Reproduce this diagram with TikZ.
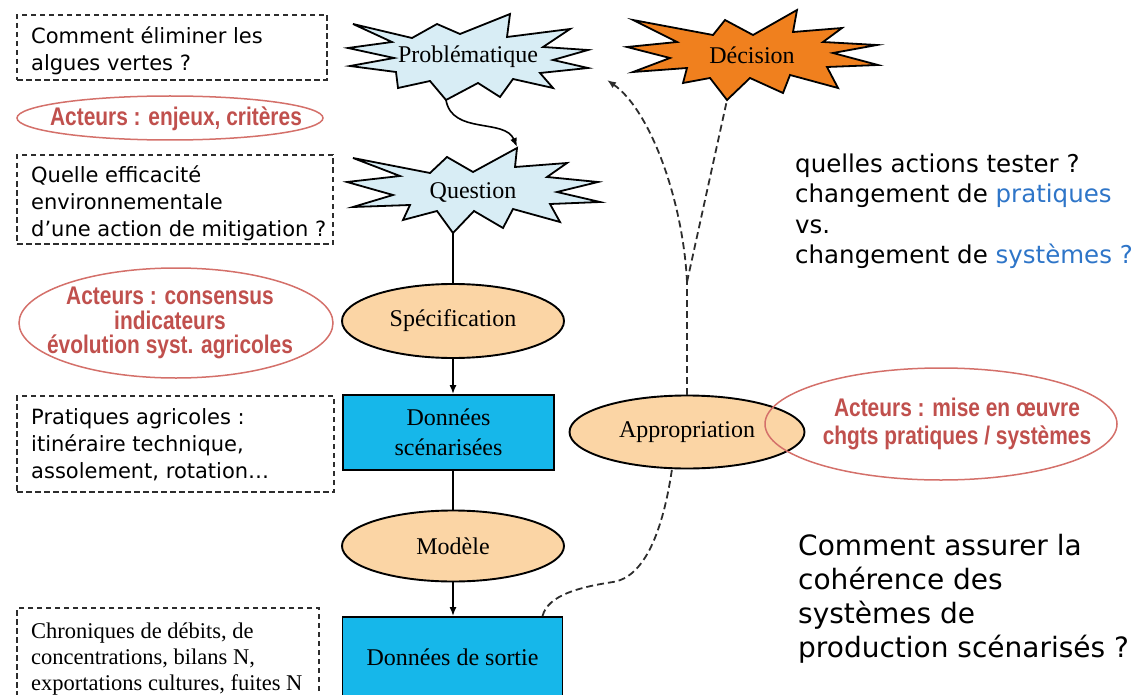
\documentclass[tikz,border=0pt]{standalone}
\usepackage{fontspec}
\setmainfont{Liberation Serif}
\newfontfamily\lucida{DejaVu Sans}
\newfontfamily\narrowred{Liberation Sans}[FakeStretch=0.82]
\usetikzlibrary{arrows.meta,shapes.geometric}
\definecolor{peach}{RGB}{251,213,165}
\definecolor{cyanbox}{RGB}{22,183,234}
\definecolor{lightblue}{RGB}{216,237,245}
\definecolor{orangeburst}{RGB}{240,128,30}
\definecolor{redtext}{RGB}{192,80,77}
\definecolor{redline}{RGB}{212,112,106}
\definecolor{blueword}{RGB}{46,117,200}
\definecolor{dashgray}{RGB}{45,45,45}
\begin{document}
\begin{tikzpicture}[x=1pt,y=-1pt,
 dbox/.style={rectangle, draw=dashgray, line width=1.7pt, dash pattern=on 5.5pt off 3.5pt, inner sep=0pt},
 ltxt/.style={align=left, inner sep=0pt, anchor=west, font=\lucida\fontsize{21}{27}\selectfont},
 stxt/.style={align=left, inner sep=0pt, anchor=west, font=\fontsize{22.5}{26}\selectfont},
 redell/.style={ellipse, draw=redline, line width=1.5pt, inner sep=0pt},
 redtxt/.style={align=center, inner sep=0pt, text=redtext, font=\narrowred\bfseries\fontsize{25.5}{24.5}\selectfont},
 peachell/.style={ellipse, draw=black, line width=1.9pt, fill=peach, inner sep=0pt, font=\fontsize{24}{30}\selectfont},
 cyanrect/.style={rectangle, draw=black, line width=1.9pt, fill=cyanbox, inner sep=0pt, align=center, font=\fontsize{24}{30}\selectfont},
 burst/.style={draw=black, line width=1.8pt, line join=miter, miter limit=10},
 bursttxt/.style={inner sep=0pt, font=\fontsize{24}{28}\selectfont},
 conn/.style={draw=black, line width=1.6pt},
 arr/.style={conn, -{Latex[length=9pt,width=7pt]}},
 dconn/.style={draw=dashgray, line width=1.8pt, dash pattern=on 7pt off 4pt},
 darr/.style={dconn, -{Latex[length=9pt,width=7pt]}},
 rtxt/.style={anchor=base west, inner sep=0pt, font=\lucida\fontsize{24.5}{31}\selectfont},
 btxt/.style={anchor=base west, inner sep=0pt, font=\lucida\fontsize{28}{34}\selectfont}
]
\useasboundingbox (0,0) rectangle (1147,695);

% ---------- left column: dashed boxes ----------
\node[dbox, minimum width=310pt, minimum height=65pt] (b1) at (172,47.5) {};
\node[ltxt] (b1t) at (31,50.5) {Comment éliminer les\\algues vertes ?};
\node[dbox, minimum width=316pt, minimum height=89pt] (b2) at (175,199.5) {};
\node[ltxt] (b2t) at (31,203) {Quelle efficacité\\environnementale\\d’une action de mitigation ?};
\node[dbox, minimum width=317pt, minimum height=96pt] (b3) at (175.5,444) {};
\node[ltxt] (b3t) at (31,445) {Pratiques agricoles :\\itinéraire technique,\\assolement, rotation…};
\node[dbox, minimum width=302pt, minimum height=96pt] (b4) at (168,656) {};
\node[stxt] (b4t) at (31,659) {Chroniques de débits, de\\concentrations, bilans N,\\exportations cultures, fuites N};

% ---------- left red ellipses ----------
\node[redell, minimum width=306pt, minimum height=44pt] (ac1) at (170,118) {};
\node[redtxt] (ac1t) at (176,119) {Acteurs : enjeux, critères};
\node[redell, minimum width=314pt, minimum height=110pt] (ac2) at (176,323) {};
\node[redtxt] (ac2t) at (170,323) {Acteurs : consensus\\indicateurs\\évolution syst. agricoles};

% ---------- starbursts ----------
\draw[burst, fill=lightblue] (353,24) -- (412,38) -- (437,24) -- (460,34) -- (510,14) -- (507,37) -- (570,29) -- (543,47) -- (588,50) -- (553,60) -- (588,68) -- (540,73) -- (553,88) -- (513,79) -- (500,97) -- (478,83) -- (446,100) -- (430,81) -- (398,88) -- (396,72) -- (350,66) -- (394,58) -- (348,48) -- (392,42) -- cycle;
\node[bursttxt] (prob) at (468,57) {Problématique};
\coordinate (pb) at (446,100);

\draw[burst, fill=lightblue] (353,158) -- (430,173) -- (447,157) -- (473,172) -- (517,148) -- (515,167) -- (567,163) -- (547,177) -- (598,182) -- (557,192) -- (600,202) -- (550,204) -- (560,222) -- (513,209) -- (503,228) -- (474,211) -- (453,233) -- (437,211) -- (403,220) -- (410,205) -- (353,207) -- (393,195) -- (347,182) -- (400,176) -- cycle;
\node[bursttxt] (quest) at (473,192) {Question};
\coordinate (qt) at (517,147);
\coordinate (qb) at (453,233);

\draw[burst, fill=orangeburst] (633,20) -- (713,35) -- (725,20) -- (753,35) -- (797,10) -- (793,32) -- (842,28) -- (823,42) -- (877,45) -- (833,53) -- (878,65) -- (827,67) -- (838,88) -- (790,75) -- (783,93) -- (750,78) -- (727,100) -- (710,78) -- (683,83) -- (687,68) -- (633,72) -- (670,58) -- (627,47) -- (677,42) -- cycle;
\node[bursttxt] (dec) at (752,55) {Décision};
\coordinate (db) at (727,100);

% ---------- central column ----------
\node[peachell, minimum width=222pt, minimum height=74pt] (spec) at (453,321) {Spécification};
\node[cyanrect, minimum width=211pt, minimum height=75pt] (ds) at (448.5,432.5) {Données\\scénarisées};
\node[peachell, minimum width=222pt, minimum height=71pt] (mod) at (453,546) {Modèle};
\node[cyanrect, minimum width=220pt, minimum height=80pt] (dso) at (452.5,657) {Données de sortie};

\draw[arr] (pb) .. controls (452,135) and (505,118) .. (qt);
\draw[conn] (qb) -- (qb |- spec.north);
\draw[arr] (spec.south) -- (spec.south |- ds.north);
\draw[conn] (mod.north |- ds.south) -- (mod.north);
\draw[arr] (mod.south) -- (mod.south |- dso.north);

% ---------- right side ----------
\node[peachell, minimum width=235pt, minimum height=73pt] (app) at (687,432) {Appropriation};
\node[redell, minimum width=352pt, minimum height=112pt] (ac3) at (941,424) {};
\node[redtxt, font=\narrowred\bfseries\fontsize{25.5}{28}\selectfont] (ac3t) at (957,424) {Acteurs : mise en œuvre\\chgts pratiques / systèmes};

\coordinate (jn) at (687,282);
\coordinate (pr) at (607,80);
\coordinate (dsoj) at ([xshift=90pt]dso.north);
\draw[dconn] (app.north) -- (jn);
\draw[dconn] (jn) -- (db);
\draw[darr] (jn) .. controls (683,200) and (650,110) .. (pr);
\draw[dconn] (dsoj) .. controls (548,595) and (580,587) .. (613,582) .. controls (645,577) and (663,530) .. (app.248);

\node[rtxt] (r1) at (795,172) {quelles actions tester ?};
\node[rtxt] (r2) at (795,202.5) {changement de {\color{blueword}pratiques}};
\node[rtxt] (r3) at (795,233) {vs.};
\node[rtxt] (r4) at (795,263.5) {changement de {\color{blueword}systèmes ?}};

\node[btxt] (c1) at (798,555) {Comment assurer la};
\node[btxt] (c2) at (798,589) {cohérence des};
\node[btxt] (c3) at (798,623) {systèmes de};
\node[btxt] (c4) at (798,657) {production scénarisés ?};
\end{tikzpicture}
\end{document}
